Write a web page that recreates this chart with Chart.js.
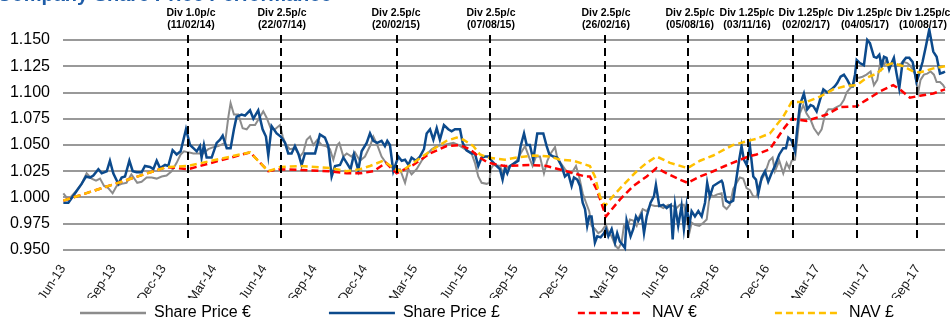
<!DOCTYPE html>
<html>
<head>
<meta charset="utf-8">
<script src="https://cdn.jsdelivr.net/npm/chart.js@4/dist/chart.umd.min.js"></script>
<style>
html, body { margin: 0; padding: 0; background: #fff; }
</style>
</head>
<body>
<canvas id="chart" width="950" height="321"></canvas>
<script>
// x values are months since 1 Jun 2013
var tickLabels = ['Jun-13', 'Sep-13', 'Dec-13', 'Mar-14', 'Jun-14', 'Sep-14', 'Dec-14', 'Mar-15', 'Jun-15',
  'Sep-15', 'Dec-15', 'Mar-16', 'Jun-16', 'Sep-16', 'Dec-16', 'Mar-17', 'Jun-17', 'Sep-17'];
var yTicks = [0.950, 1.150, 0.025];
var titleText = 'Company Share Price Performance';

var sharePriceEur = [
  [0.02,1.004],[0.32,0.998],[0.72,1.005],[1.11,1.013],[1.41,1.023],[1.71,1.018],[1.97,1.016],[2.21,1.018],
  [2.45,1.011],[2.70,1.009],[2.96,1.004],[3.20,1.011],[3.50,1.013],[3.79,1.014],[4.08,1.022],[4.43,1.014],
  [4.69,1.015],[4.99,1.019],[5.29,1.019],[5.59,1.018],[5.89,1.020],[6.18,1.021],[6.48,1.025],[6.78,1.033],
  [7.02,1.041],[7.22,1.044],[7.48,1.043],[7.78,1.042],[8.07,1.042],[8.37,1.042],[8.67,1.046],[8.97,1.048],
  [9.27,1.049],[9.67,1.052],[9.87,1.077],[10.0,1.090],[10.2,1.079],[10.46,1.079],[10.72,1.066],[10.96,1.065],
  [11.16,1.069],[11.46,1.069],[11.65,1.074],[11.95,1.082],[12.15,1.076],[12.39,1.066],[12.65,1.065],[12.95,1.069],
  [13.11,1.058],[13.31,1.050],[13.54,1.046],[13.84,1.047],[14.14,1.039],[14.34,1.043],[14.54,1.055],[14.74,1.058],
  [14.94,1.050],[15.17,1.055],[15.43,1.050],[15.69,1.049],[15.93,1.046],[16.13,1.036],[16.37,1.050],[16.49,1.052],
  [16.73,1.039],[16.93,1.042],[17.22,1.039],[17.42,1.043],[17.72,1.035],[18.02,1.039],[18.32,1.049],[18.52,1.058],
  [18.75,1.050],[19.01,1.039],[19.27,1.033],[19.51,1.030],[19.75,1.028],[19.91,1.027],[20.11,1.027],[20.41,1.014],
  [20.61,1.027],[20.80,1.022],[21.10,1.027],[21.40,1.035],[21.70,1.041],[22.00,1.046],[22.30,1.049],[22.69,1.050],
  [22.99,1.051],[23.29,1.052],[23.59,1.050],[23.89,1.047],[24.18,1.044],[24.38,1.042],[24.58,1.033],[24.78,1.020],
  [24.98,1.014],[25.28,1.013],[25.44,1.014],[25.52,1.027],[25.68,1.031],[26.07,1.030],[26.27,1.023],[26.47,1.028],
  [26.77,1.031],[27.07,1.035],[27.27,1.041],[27.57,1.049],[27.82,1.038],[28.02,1.030],[28.22,1.039],[28.46,1.039],
  [28.70,1.023],[28.90,1.035],[29.10,1.042],[29.36,1.048],[29.49,1.038],[29.69,1.033],[29.95,1.027],[30.15,1.023],
  [30.35,1.023],[30.61,1.030],[30.81,1.019],[31.01,1.004],[31.21,0.995],[31.40,0.987],[31.54,0.973],[31.74,0.970],
  [31.94,0.966],[32.14,0.968],[32.40,0.974],[32.54,0.967],[32.74,0.963],[32.94,0.955],[33.13,0.951],[33.33,0.957],
  [33.47,0.973],[33.63,0.970],[33.83,0.979],[34.03,0.978],[34.23,0.973],[34.39,0.982],[34.59,0.989],[34.83,0.987],
  [35.06,0.993],[35.32,0.992],[35.58,0.992],[35.82,0.990],[36.12,0.993],[36.38,0.992],[36.62,0.990],[36.81,0.993],
  [37.05,0.993],[37.21,0.982],[37.37,0.966],[37.51,0.976],[37.71,0.974],[37.97,0.973],[38.21,0.976],[38.41,0.979],
  [38.60,1.004],[38.80,1.001],[39.04,1.003],[39.30,1.004],[39.40,0.992],[39.60,0.989],[39.80,0.993],[39.99,1.008],
  [40.20,1.014],[40.39,1.019],[40.59,1.018],[40.79,1.009],[40.99,1.007],[41.19,1.001],[41.39,1.001],[41.59,1.014],
  [41.89,1.023],[42.14,1.035],[42.34,1.038],[42.48,1.025],[42.74,1.035],[42.98,1.023],[43.18,1.033],[43.34,1.028],
  [43.48,1.035],[43.68,1.036],[43.81,1.055],[43.97,1.080],[44.17,1.088],[44.37,1.080],[44.61,1.074],[44.81,1.066],
  [45.07,1.060],[45.27,1.065],[45.47,1.079],[45.67,1.084],[45.93,1.084],[46.16,1.086],[46.40,1.088],[46.60,1.093],
  [46.76,1.100],[46.96,1.104],[47.16,1.107],[47.31,1.114],[47.51,1.114],[47.71,1.115],[47.95,1.117],[48.19,1.120],
  [48.39,1.107],[48.59,1.112],[48.79,1.131],[48.99,1.126],[49.14,1.131],[49.34,1.125],[49.54,1.129],[49.74,1.125],
  [49.94,1.127],[50.18,1.129],[50.38,1.128],[50.58,1.125],[50.83,1.118],[51.03,1.100],[51.17,1.112],[51.37,1.117],
  [51.57,1.118],[51.77,1.120],[51.97,1.117],[52.13,1.110],[52.33,1.110],[52.52,1.107],[52.63,1.104]
];

var sharePriceGbp = [
  [0.02,0.995],[0.32,0.995],[0.72,1.004],[1.11,1.013],[1.37,1.020],[1.61,1.019],[1.81,1.021],[2.11,1.027],
  [2.31,1.023],[2.61,1.025],[2.80,1.035],[3.00,1.023],[3.30,1.013],[3.50,1.019],[3.70,1.020],[3.96,1.035],
  [4.16,1.025],[4.40,1.024],[4.69,1.024],[4.89,1.030],[5.19,1.029],[5.39,1.027],[5.59,1.035],[5.79,1.028],
  [6.09,1.031],[6.28,1.030],[6.54,1.045],[6.78,1.041],[7.02,1.044],[7.34,1.065],[7.58,1.050],[7.78,1.047],
  [7.98,1.044],[8.17,1.049],[8.27,1.038],[8.41,1.050],[8.57,1.038],[8.87,1.038],[9.17,1.052],[9.37,1.055],
  [9.53,1.059],[9.77,1.047],[10.0,1.047],[10.2,1.065],[10.36,1.077],[10.66,1.079],[10.86,1.078],[11.16,1.083],
  [11.36,1.075],[11.65,1.083],[11.91,1.065],[12.11,1.058],[12.25,1.040],[12.45,1.068],[12.75,1.061],[12.99,1.058],
  [13.25,1.052],[13.44,1.042],[13.64,1.042],[13.84,1.049],[14.04,1.042],[14.24,1.031],[14.44,1.042],[14.74,1.042],
  [15.04,1.042],[15.33,1.060],[15.63,1.057],[15.83,1.049],[16.03,1.020],[16.23,1.030],[16.53,1.031],[16.73,1.038],
  [16.93,1.033],[17.16,1.027],[17.36,1.041],[17.62,1.026],[17.82,1.044],[18.12,1.052],[18.32,1.061],[18.52,1.054],
  [18.75,1.052],[19.01,1.054],[19.21,1.049],[19.35,1.054],[19.51,1.050],[19.71,1.025],[20.01,1.039],[20.21,1.035],
  [20.41,1.036],[20.61,1.031],[20.80,1.038],[21.06,1.035],[21.30,1.039],[21.54,1.046],[21.70,1.061],[21.90,1.065],
  [22.10,1.055],[22.30,1.066],[22.49,1.055],[22.73,1.069],[22.99,1.065],[23.19,1.063],[23.39,1.065],[23.69,1.065],
  [23.85,1.052],[24.08,1.045],[24.38,1.042],[24.58,1.042],[24.78,1.030],[24.98,1.038],[25.18,1.039],[25.38,1.039],
  [25.58,1.035],[25.88,1.030],[26.07,1.027],[26.23,1.017],[26.37,1.028],[26.51,1.023],[26.67,1.030],[26.97,1.033],
  [27.17,1.035],[27.31,1.049],[27.51,1.061],[27.67,1.050],[27.86,1.050],[28.06,1.036],[28.30,1.061],[28.50,1.061],
  [28.66,1.061],[28.86,1.049],[29.02,1.041],[29.26,1.039],[29.49,1.038],[29.75,1.030],[29.95,1.020],[30.15,1.023],
  [30.35,1.011],[30.49,1.019],[30.69,1.017],[30.85,1.011],[31.01,0.995],[31.15,0.989],[31.28,0.973],[31.40,0.982],
  [31.54,0.982],[31.74,0.957],[31.88,0.963],[32.08,0.962],[32.28,0.966],[32.40,0.970],[32.54,0.963],[32.74,0.970],
  [32.94,0.957],[33.07,0.966],[33.23,0.958],[33.39,0.955],[33.53,0.952],[33.63,0.978],[33.87,0.963],[34.03,0.970],
  [34.19,0.982],[34.33,0.978],[34.53,0.984],[34.67,0.966],[34.83,0.982],[35.06,0.995],[35.26,1.001],[35.38,1.012],
  [35.58,0.992],[35.82,0.993],[36.02,0.990],[36.26,0.993],[36.38,0.960],[36.52,0.993],[36.71,0.973],[36.91,0.992],
  [37.05,0.970],[37.21,0.992],[37.37,0.973],[37.51,0.987],[37.71,0.982],[37.91,0.987],[38.11,0.982],[38.31,0.995],
  [38.44,1.014],[38.60,1.001],[38.80,1.011],[39.10,1.014],[39.30,1.016],[39.36,1.014],[39.56,0.997],[39.76,0.995],
  [39.99,0.997],[40.20,1.020],[40.35,1.036],[40.49,1.049],[40.63,1.036],[40.79,1.031],[40.99,1.049],[41.19,1.020],
  [41.35,1.017],[41.49,1.004],[41.69,1.019],[41.89,1.025],[42.08,1.015],[42.28,1.023],[42.48,1.030],[42.74,1.041],
  [42.98,1.047],[43.14,1.047],[43.28,1.057],[43.48,1.054],[43.68,1.044],[43.81,1.065],[43.97,1.088],[44.21,1.099],
  [44.41,1.084],[44.61,1.088],[44.77,1.087],[44.97,1.082],[45.17,1.093],[45.37,1.103],[45.60,1.100],[45.86,1.103],
  [46.06,1.106],[46.20,1.109],[46.40,1.115],[46.60,1.117],[46.80,1.112],[46.96,1.107],[47.12,1.106],[47.26,1.117],
  [47.36,1.131],[47.55,1.128],[47.79,1.126],[47.99,1.150],[48.15,1.147],[48.39,1.134],[48.55,1.133],[48.71,1.136],
  [48.85,1.125],[48.99,1.134],[49.14,1.133],[49.30,1.122],[49.44,1.128],[49.58,1.133],[49.74,1.118],[49.90,1.104],
  [50.10,1.129],[50.30,1.133],[50.50,1.133],[50.70,1.129],[50.93,1.110],[51.09,1.118],[51.29,1.129],[51.49,1.144],
  [51.69,1.160],[51.93,1.139],[52.13,1.134],[52.33,1.118],[52.52,1.119],[52.63,1.120]
];

var navEur = [
  [0.02,0.997],[6.18,1.029],[7.48,1.027],[11.16,1.043],[12.25,1.025],[12.95,1.027],[15.93,1.025],[16.93,1.023],
  [17.72,1.023],[18.52,1.025],[19.27,1.033],[19.91,1.023],[20.90,1.031],[21.90,1.042],[22.89,1.049],[23.69,1.050],
  [24.28,1.046],[24.88,1.038],[25.38,1.033],[26.37,1.030],[27.86,1.031],[28.86,1.030],[30.05,1.025],[31.15,1.020],
  [31.44,1.020],[31.84,1.008],[32.40,0.982],[33.23,0.998],[34.03,1.011],[34.83,1.020],[35.42,1.028],[36.02,1.023],
  [36.81,1.017],[37.27,1.014],[38.01,1.020],[38.80,1.025],[39.50,1.030],[40.89,1.039],[41.39,1.041],[42.18,1.046],
  [42.98,1.065],[43.48,1.075],[44.37,1.073],[45.57,1.079],[46.36,1.086],[47.36,1.087],[47.95,1.093],[48.75,1.101],
  [49.54,1.107],[49.94,1.103],[50.54,1.095],[51.13,1.097],[51.93,1.099],[52.63,1.103]
];

var navGbp = [
  [0.02,0.997],[6.18,1.029],[7.42,1.030],[11.16,1.043],[12.25,1.025],[12.95,1.029],[14.14,1.030],[15.93,1.028],
  [16.93,1.025],[17.72,1.027],[18.32,1.030],[19.11,1.035],[19.81,1.027],[20.21,1.025],[20.90,1.033],[21.90,1.044],
  [22.89,1.054],[23.49,1.057],[23.89,1.055],[24.48,1.049],[24.88,1.041],[25.38,1.038],[26.37,1.036],[27.07,1.038],
  [28.06,1.040],[29.06,1.039],[29.66,1.036],[30.45,1.035],[31.44,1.030],[31.74,1.020],[32.04,1.001],[32.34,0.992],
  [32.64,0.998],[33.43,1.012],[34.23,1.025],[34.83,1.033],[35.42,1.039],[36.22,1.033],[37.27,1.028],[38.01,1.035],
  [38.80,1.040],[39.50,1.046],[39.99,1.050],[40.89,1.054],[41.39,1.056],[42.18,1.061],[42.98,1.077],[43.48,1.091],
  [44.37,1.091],[45.17,1.096],[45.96,1.103],[46.66,1.106],[47.36,1.107],[47.95,1.114],[48.55,1.118],[49.14,1.126],
  [49.54,1.128],[50.14,1.125],[50.73,1.120],[51.13,1.119],[51.93,1.123],[52.63,1.125]
];

var divDates = [7.46, 13.01, 19.93, 25.48, 32.34, 37.29, 40.87, 43.56, 47.37, 50.94];
var divAmounts = ['1.0', '2.5', '2.5', '2.5', '2.5', '2.5', '1.25', '1.25', '1.25', '1.25'];
var divDays = ['11/02/14', '22/07/14', '20/02/15', '07/08/15', '26/02/16', '05/08/16', '03/11/16', '02/02/17',
  '04/05/17', '10/08/17'];
// label nudges in px, the original boxes are not all centred on their lines
var divLabelShift = [3, 1, -1, 1, 1, 2, -1, 13, 8, 6];

var fontFamily = '"Liberation Sans", Arial, sans-serif';

function toPoints(rows) {
  return rows.map(function (r) { return { x: r[0], y: r[1] }; });
}

function makeSet(label, rows, color, width, dash, order) {
  return {
    label: label,
    data: toPoints(rows),
    borderColor: color,
    backgroundColor: color,
    borderWidth: width,
    borderDash: dash,
    pointRadius: 0,
    tension: 0,
    clip: 12,
    order: order
  };
}

// title sits mostly above the top edge, as in the cropped original
var croppedTitle = {
  id: 'croppedTitle',
  afterDraw: function (chart) {
    var ctx = chart.ctx;
    ctx.save();
    ctx.font = 'bold 20px ' + fontFamily;
    ctx.fillStyle = '#1f5da8';
    ctx.textBaseline = 'alphabetic';
    ctx.fillText(titleText, -3, 1);
    ctx.restore();
  }
};

var dividendLines = {
  id: 'dividendLines',
  afterDatasetsDraw: function (chart) {
    var ctx = chart.ctx;
    var xs = chart.scales.x;
    var area = chart.chartArea;
    ctx.save();
    ctx.strokeStyle = '#000';
    ctx.lineWidth = 2;
    ctx.setLineDash([8, 5]);
    ctx.fillStyle = '#000';
    ctx.font = 'bold 10.5px ' + fontFamily;
    ctx.textAlign = 'center';
    ctx.textBaseline = 'middle';
    for (var i = 0; i < divDates.length; i++) {
      var px = Math.round(xs.getPixelForValue(divDates[i]));
      ctx.beginPath();
      ctx.moveTo(px, area.top - 5);
      ctx.lineTo(px, area.bottom - 7);
      ctx.stroke();
      ctx.fillText('Div ' + divAmounts[i] + 'p/c', px + divLabelShift[i], area.top - 27);
      ctx.fillText('(' + divDays[i] + ')', px + divLabelShift[i], area.top - 15);
    }
    ctx.restore();
  }
};

// line-style legend along the bottom
var lineLegend = {
  id: 'lineLegend',
  afterDraw: function (chart) {
    var ctx = chart.ctx;
    var x = 80, y = 313;
    ctx.save();
    ctx.font = '16px ' + fontFamily;
    ctx.textBaseline = 'middle';
    chart.data.datasets.forEach(function (ds) {
      ctx.strokeStyle = ds.borderColor;
      ctx.lineWidth = 2.5;
      ctx.setLineDash(ds.borderDash || []);
      ctx.beginPath();
      ctx.moveTo(x, y);
      ctx.lineTo(x + 66, y);
      ctx.stroke();
      ctx.fillStyle = '#000';
      ctx.fillText(ds.label, x + 74, y);
      x += 74 + ctx.measureText(ds.label).width + 78;
    });
    ctx.restore();
  }
};

new Chart(document.getElementById('chart').getContext('2d'), {
  type: 'line',
  data: {
    datasets: [
      makeSet('Share Price \u20ac', sharePriceEur, '#8c8c8c', 2, [], 3),
      makeSet('Share Price \u00a3', sharePriceGbp, '#0c4a8c', 2.5, [], 2),
      makeSet('NAV \u20ac', navEur, '#ff0000', 2.5, [7, 4], 1),
      makeSet('NAV \u00a3', navGbp, '#ffc000', 2.5, [7, 4], 0)
    ]
  },
  options: {
    responsive: false,
    animation: false,
    layout: { padding: { left: 10, right: 5, top: 40, bottom: 23 } },
    plugins: { legend: { display: false }, tooltip: { enabled: false } },
    scales: {
      x: {
        type: 'linear',
        min: 0,
        max: 52.63,
        grid: { display: false },
        border: { display: false },
        ticks: {
          stepSize: 3,
          includeBounds: false,
          autoSkip: false,
          minRotation: 57,
          maxRotation: 57,
          padding: 4,
          color: '#1a1a1a',
          font: { family: fontFamily, size: 13 },
          callback: function (v) { return tickLabels[Math.round(v / 3)]; }
        },
        afterFit: function (s) { s.height = 48; s.paddingLeft = 0; s.paddingRight = 0; }
      },
      y: {
        min: yTicks[0],
        max: yTicks[1],
        grid: { color: '#999', lineWidth: 2, drawTicks: false },
        border: { display: false },
        ticks: {
          stepSize: yTicks[2],
          padding: 13,
          color: '#000',
          font: { family: fontFamily, size: 16 },
          callback: function (v) { return v.toFixed(3); }
        },
        afterFit: function (s) { s.width = 53; }
      }
    }
  },
  plugins: [dividendLines, lineLegend, croppedTitle]
});
</script>
</body>
</html>
